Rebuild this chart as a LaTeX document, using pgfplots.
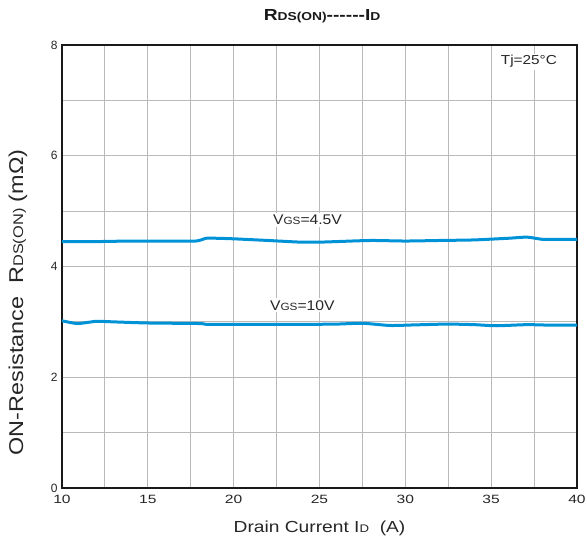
\documentclass[border=0pt]{standalone}
\usepackage{pgfplots}
\pgfplotsset{compat=1.18}
\usepackage{fontspec}
\setmainfont{Liberation Sans}
\definecolor{curve}{RGB}{0,146,214}
\newcommand\sub[2][10]{{\fontsize{#1}{#1}\selectfont #2}}
\begin{document}
\begin{tikzpicture}
\path[use as bounding box] (-62pt,-56pt) rectangle (525pt,488pt);
\begin{axis}[
  at={(0,0)}, anchor=south west,
  scale only axis, width=515pt, height=443pt,
  xmin=10, xmax=40, ymin=0, ymax=8,
  xtick={10,15,...,40}, ytick={0,2,...,8},
  minor xtick={12.5,17.5,...,37.5}, minor ytick={1,3,5,7},
  grid=both,
  major grid style={gray!55, line width=1pt},
  minor grid style={gray!55, line width=1pt},
  major tick length=0pt, minor tick length=0pt,
  axis line style={line width=2.5pt, black!90},
  /pgf/number format/assume math mode=true,
  xticklabel={\scalebox{1.3}[1]{\pgfmathprintnumber{\tick}}},
  xticklabel style={font=\fontsize{12}{13}\selectfont, text=black!85, yshift=-4pt},
  yticklabel style={font=\fontsize{12}{13}\selectfont, text=black!85, xshift=-1pt},
  xlabel={\scalebox{1.2}[1]{Drain Current I\sub[11]{D}\ \ (A)}},
  ylabel={\scalebox{1.17}[1]{ON-Resistance\ \ R\sub[14]{DS(ON)}\ (mΩ)}},
  xlabel style={font=\fontsize{16}{17}\selectfont, text=black!85,
    at={(axis description cs:0.5,-0.09)}, anchor=center},
  ylabel style={font=\fontsize{20}{21}\selectfont, text=black!85,
    at={(axis description cs:-0.0854,0.419)}, anchor=center},
  title={\scalebox{1.2}[1]{\textbf{R\sub[11.5]{\textbf{DS(ON)}}{-}{-}{-}{-}{-}{-}I\sub[11.5]{\textbf{D}}}}},
  title style={font=\fontsize{16}{17}\selectfont, text=black!90,
    at={(axis description cs:0.505,1.052)}, anchor=center},
  clip=false,
]
\addplot[curve, line width=3pt, smooth, tension=0.4] coordinates {
(10,4.45) (12,4.45) (14,4.46) (16,4.46) (17.8,4.46) (18.4,4.51) (19,4.51) (20,4.50)
(22,4.47) (23.9,4.44) (25,4.44) (26,4.45) (28,4.47) (30,4.46) (32,4.47) (34,4.48)
(36,4.51) (37.1,4.53) (38,4.49) (39,4.49) (40,4.49)};
\addplot[curve, line width=3pt, smooth, tension=0.4] coordinates {
(10,3.02) (10.9,2.97) (12,3.01) (13,3.00) (15,2.98) (18,2.97) (18.5,2.955) (21,2.955)
(24,2.955) (26,2.96) (27.5,2.975) (29.1,2.935) (30.5,2.945) (32.4,2.96) (34,2.95)
(35.3,2.93) (37.1,2.95) (38.5,2.94) (40,2.94)};
\node[fill=white, font=\fontsize{14}{15}\selectfont, text=black!85, inner sep=2pt] at (axis cs:24.3,4.84) {\scalebox{1.12}[1]{V\sub[10.5]{GS}=4.5V}};
\node[fill=white, font=\fontsize{14}{15}\selectfont, text=black!85, inner sep=2pt] at (axis cs:24.0,3.30) {\scalebox{1.12}[1]{V\sub[10.5]{GS}=10V}};
\node[fill=white, font=\fontsize{13}{14}\selectfont, text=black!85, inner sep=2pt] at (axis cs:37.2,7.7) {\scalebox{1.18}[1]{Tj=25°C}};
\end{axis}
\end{tikzpicture}
\end{document}
